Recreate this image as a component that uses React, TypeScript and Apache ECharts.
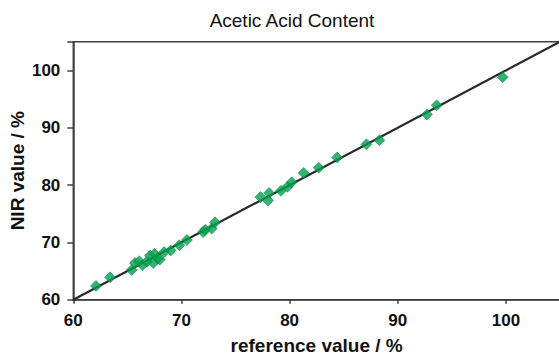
import React, { useEffect, useRef } from "react";
import * as echarts from "echarts";

const referenceValues = [
  62.1, 63.4, 65.4, 65.7, 66.1, 66.4, 66.8, 67.1, 67.4, 67.5, 67.8, 68.0, 68.4, 69.0, 69.8, 70.5,
  72.0, 72.2, 72.8, 73.1, 77.3, 78.1, 78.0, 79.2, 79.8, 80.2, 81.3, 82.7, 84.4, 87.1, 88.3, 92.7,
  93.6, 99.7,
];
const nirValues = [
  62.4, 63.9, 65.2, 66.4, 66.7, 66.0, 66.6, 67.7, 66.4, 68.0, 67.2, 67.0, 68.3, 68.6, 69.5, 70.4,
  71.8, 72.2, 72.4, 73.5, 77.9, 78.6, 77.3, 79.0, 79.7, 80.5, 82.1, 83.0, 84.8, 87.1, 87.8, 92.3,
  93.9, 98.8,
];
const identityLine = [60, 105];
const axisTicks = [60, 70, 80, 90, 100];

export default function App() {
  const ref = useRef<HTMLDivElement>(null);
  useEffect(() => {
    if (!ref.current) return;
    const chart = echarts.init(ref.current, null, { renderer: "svg" });
    const font = "Liberation Sans, Arial, sans-serif";
    chart.setOption({
      animation: false,
      backgroundColor: "#ffffff",
      title: {
        text: "Acetic Acid Content",
        left: 287,
        top: 6,
        textAlign: "center",
        textStyle: { fontFamily: font, fontSize: 19, fontWeight: "normal", color: "#111" },
      },
      grid: {
        left: 73.3,
        top: 41.7,
        right: -1,
        bottom: 55.3,
        containLabel: false,
        outerBoundsMode: "none",
        show: true,
        borderColor: "#404040",
        borderWidth: 1.5,
      },
      xAxis: {
        type: "value",
        min: 60,
        max: 105,
        interval: 10,
        name: "reference value / %",
        nameLocation: "middle",
        nameGap: 36,
        nameMoveOverlap: false,
        nameTextStyle: { fontFamily: font, fontSize: 19, fontWeight: "bold", color: "#111" },
        axisLine: { show: true, lineStyle: { color: "#404040", width: 1.5 } },
        axisTick: { show: true, inside: false, length: 4, lineStyle: { color: "#404040", width: 1.5 } },
        axisLabel: {
          fontFamily: font,
          fontSize: 17,
          fontWeight: "bold",
          color: "#111",
          margin: 12,
          formatter: (v: number) => (axisTicks.includes(v) ? String(v) : ""),
        },
        splitLine: { show: false },
      },
      yAxis: {
        type: "value",
        min: 60,
        max: 105,
        interval: 10,
        name: "NIR value / %",
        nameLocation: "middle",
        nameGap: 46,
        nameMoveOverlap: false,
        nameRotate: 90,
        nameTextStyle: { fontFamily: font, fontSize: 19, fontWeight: "bold", color: "#111" },
        axisLine: { show: true, lineStyle: { color: "#404040", width: 1.5 } },
        axisTick: { show: true, inside: false, length: 6, lineStyle: { color: "#404040", width: 1.5 } },
        axisLabel: {
          fontFamily: font,
          fontSize: 17,
          fontWeight: "bold",
          color: "#111",
          margin: 13,
          formatter: (v: number) => (axisTicks.includes(v) ? String(v) : ""),
        },
        splitLine: { show: false },
      },
      series: [
        {
          type: "line",
          data: identityLine.map((v) => [v, v]),
          symbol: "none",
          lineStyle: { color: "#2a2a2a", width: 2.2 },
          z: 1,
        },
        {
          type: "scatter",
          data: referenceValues.map((x, i) => [x, nirValues[i]]),
          symbol: "diamond",
          symbolSize: 11,
          itemStyle: { color: "#00a04e", borderColor: "#007f3c", borderWidth: 0.6 },
          z: 2,
        },
      ],
    });
    return () => chart.dispose();
  }, []);
  return (
    <div
      ref={ref}
      style={{ position: "absolute", left: 0, top: 0, width: 559, height: 355 }}
    />
  );
}
